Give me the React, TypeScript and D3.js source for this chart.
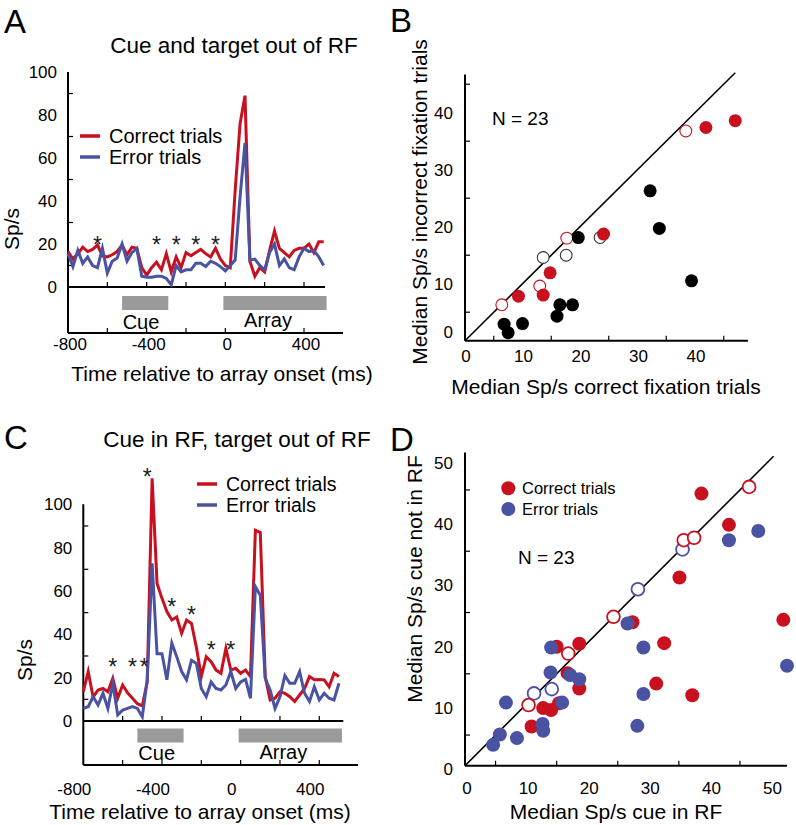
import React from 'react';
import * as d3 from 'd3';

const RED = '#c8101f';
const BLUE = '#4a52a2';
const BAR_GRAY = '#9a9a9a';
const FONT = "'Liberation Sans', Arial, Helvetica, sans-serif";

// ---------- time-course data (panels A, C) ----------
const binTimes = d3.range(-800, 501, 25);
const timeTickLabels = [-800, -400, 0, 400];
const timeMinorTicks = [-600, -400, -200, 0, 200, 400];
const rateTickLabels = [0, 20, 40, 60, 80, 100];
const rateMinorTicks = [10, 30, 50, 70, 90];
const cueEpoch = [-525, -290];
const arrayEpoch = [-10, 515];
const seriesNames = ['Correct trials', 'Error trials'];

const aCorrect = [16.5, 13, 15.5, 18.5, 16.5, 17.5, 19.5, 14.5, 14, 15, 16.5, 19.5, 15, 18.5, 18, 9, 5.5, 9, 11.5, 8,
  15.5, 7, 14, 9, 16, 14.5, 16, 17.5, 15.5, 14, 18, 13, 10, 9, 45, 76, 89, 12, 5, 9,
  7, 17, 26, 18, 16, 14, 17, 18, 18, 20, 16, 21, 21];
const aError = [15.5, 9.5, 17, 11, 14, 10, 9, 18, 6.5, 12, 13.5, 20, 12, 16, 18, 5, 4.5, 4.5, 5, 5,
  4, 1, 10, 7, 8, 8, 11, 11, 9.5, 12, 11, 9.5, 7.5, 10, 12.5, 42, 67, 12.5, 13, 10,
  8, 16, 20, 10, 13, 9, 8, 14, 18, 16.5, 17, 14, 10];
const aStarTimes = [-650, -350, -250, -150, -50];
const aStarRates = [22, 22, 22, 22, 22];

const cCorrect = [13.5, 22.8, 11, 14.3, 15, 13.5, 19.7, 10.5, 16.6, 13, 10.5, 8, 7, 18, 112, 63.5, 56.6, 50.5, 46.6, 48,
  40.5, 46.6, 45, 34, 20.5, 29.7, 27.4, 23.5, 22, 33.5, 23.5, 24.3, 22, 23.5, 20.5, 88, 87, 20.5, 9.7, 10.5,
  13.5, 12.8, 11.2, 9, 12, 15, 20.5, 19, 19.2, 19, 15.8, 22, 20.5];
const cError = [5.8, 6.6, 11.2, 7.4, 12.8, 5.8, 17.4, 2.8, 5, 5.8, 6.6, 5.8, 2, 19, 72.8, 31, 31, 19, 36, 29.7,
  22.8, 19, 28, 26.6, 15, 11.2, 18, 15, 14.3, 16.6, 22.8, 15, 18, 19.2, 10.5, 62, 58, 19.7, 14.3, 5.8,
  11.2, 21, 17.4, 17.4, 22.8, 12.8, 9, 15.8, 9.7, 12.8, 10.5, 9.7, 17.4];
const cStarTimes = [-650, -550, -490, -475, -350, -250, -150, -50];
const cStarRates = [27, 27, 27, 115, 55, 51, 35, 35];

// ---------- scatter data (panel B) ----------
const bRedFilledX = [9.3, 13.6, 14.8, 24.1, 41.9, 47.0];
const bRedFilledY = [7.8, 8.0, 11.9, 18.7, 37.4, 38.6];
const bRedOpenX = [6.4, 13.0, 17.7, 38.4];
const bRedOpenY = [6.3, 9.6, 18.0, 36.8];
const bBlackOpenX = [13.6, 17.6, 23.5];
const bBlackOpenY = [14.6, 15.0, 18.1];
const bBlackFilledX = [6.8, 7.5, 10.0, 16.0, 16.5, 18.7, 19.7, 32.2, 33.8, 39.4];
const bBlackFilledY = [2.9, 1.4, 3.0, 4.3, 6.3, 6.3, 18.1, 26.3, 19.7, 10.5];
const bTickLabels = [0, 10, 20, 30, 40];
const bMinorTicks = [5, 15, 25, 35, 45];

// ---------- scatter data (panel D) ----------
const dRedFilledX = [38.7, 43.2, 35.1, 52.1, 27.4, 32.6, 31.3, 37.2, 15.0, 18.7, 16.8, 18.7, 12.8, 14.1, 15.4, 10.9];
const dRedFilledY = [44.4, 39.3, 30.7, 23.8, 23.4, 20.0, 13.4, 11.5, 19.4, 19.9, 15.1, 12.6, 9.4, 9.1, 10.2, 6.4];
const dRedOpenX = [46.5, 35.8, 37.5, 24.3, 16.9, 10.4];
const dRedOpenY = [45.5, 36.8, 37.2, 24.3, 18.3, 9.9];
const dBlueOpenX = [35.6, 28.3, 11.3, 14.2];
const dBlueOpenY = [35.3, 28.8, 11.8, 12.5];
const dBlueFilledX = [48.0, 43.2, 52.7, 26.6, 29.2, 29.2, 28.2, 14.1, 14.0, 17.2, 18.7, 15.9, 6.7, 12.7, 12.8, 8.5, 5.7, 4.6];
const dBlueFilledY = [38.3, 36.8, 16.3, 23.2, 19.3, 11.7, 6.5, 19.3, 15.2, 14.8, 14.1, 10.3, 10.3, 6.8, 5.7, 4.5, 5.1, 3.4];
const dTickLabels = [0, 10, 20, 30, 40, 50];
const dMinorTicks = [5, 15, 25, 35, 45];

type TCProps = {
  correct: number[]; error: number[]; starTimes: number[]; starRates: number[];
  xLeft: number; xRight: number; y0: number; y100: number;
  zeroEnd: number; boxBottom: number; boxRight: number; barTop: number;
  tickLabelY: number; tickLabelDx: number;
  cueLabel: [number, number]; arrayLabel: [number, number];
  title: string; titlePos: [number, number];
  legendX: number; legendY: number; legendFont: number;
  xLabelPos: [number, number]; yLabelPos: [number, number];
  letter: string; letterPos: [number, number];
};

function TimeCourse(p: TCProps) {
  const x = d3.scaleLinear().domain([-800, 400]).range([p.xLeft, p.xRight]);
  const y = d3.scaleLinear().domain([0, 100]).range([p.y0, p.y100]);
  const line = d3.line<number>().x((_, i) => x(binTimes[i])).y((d) => y(d));
  const barH = 14;
  return (
    <g fontFamily={FONT}>
      <text x={p.letterPos[0]} y={p.letterPos[1]} fontSize={33}>{p.letter}</text>
      <text x={p.titlePos[0]} y={p.titlePos[1]} fontSize={22.5} textAnchor="middle">{p.title}</text>
      {/* axes */}
      <line x1={p.xLeft} x2={p.xLeft} y1={p.y100} y2={p.boxBottom} stroke="#000" strokeWidth={2} />
      <line x1={p.xLeft} x2={p.zeroEnd} y1={p.y0} y2={p.y0} stroke="#000" strokeWidth={2} />
      <line x1={p.xLeft} x2={p.boxRight} y1={p.boxBottom} y2={p.boxBottom} stroke="#000" strokeWidth={2} />
      {rateMinorTicks.map((v) => (
        <line key={'ry' + v} x1={p.xLeft} x2={p.xLeft + 5} y1={y(v)} y2={y(v)} stroke="#000" strokeWidth={1.2} />
      ))}
      {timeMinorTicks.map((t) => (
        <g key={'tx' + t}>
          <line x1={x(t)} x2={x(t)} y1={p.y0} y2={p.y0 - 5} stroke="#000" strokeWidth={1.2} />
          <line x1={x(t)} x2={x(t)} y1={p.boxBottom} y2={p.boxBottom - 5} stroke="#000" strokeWidth={1.2} />
        </g>
      ))}
      {rateTickLabels.map((v) => (
        <text key={'yl' + v} x={p.xLeft - 11} y={y(v)} dy="0.35em" fontSize={17} textAnchor="end">{v}</text>
      ))}
      {timeTickLabels.map((t) => (
        <text key={'xl' + t} x={x(t) + p.tickLabelDx} y={p.tickLabelY} dy="0.35em" fontSize={17} textAnchor="middle">{t}</text>
      ))}
      {/* epochs */}
      <rect x={x(cueEpoch[0])} y={p.barTop} width={x(cueEpoch[1]) - x(cueEpoch[0])} height={barH} fill={BAR_GRAY} />
      <rect x={x(arrayEpoch[0])} y={p.barTop} width={x(arrayEpoch[1]) - x(arrayEpoch[0])} height={barH} fill={BAR_GRAY} />
      <text x={p.cueLabel[0]} y={p.cueLabel[1]} dy="0.35em" fontSize={20} textAnchor="middle">Cue</text>
      <text x={p.arrayLabel[0]} y={p.arrayLabel[1]} dy="0.35em" fontSize={20} textAnchor="middle">Array</text>
      {/* lines */}
      <path d={line(p.correct) || ''} fill="none" stroke={RED} strokeWidth={3} strokeLinejoin="miter" strokeMiterlimit={6} />
      <path d={line(p.error) || ''} fill="none" stroke={BLUE} strokeWidth={3} strokeLinejoin="miter" strokeMiterlimit={6} />
      {p.starTimes.map((t, i) => (
        <text key={'s' + i} x={x(t)} y={y(p.starRates[i]) + 13} fontSize={23} textAnchor="middle" fill="#222">*</text>
      ))}
      {/* legend */}
      {seriesNames.map((n, i) => (
        <g key={n}>
          <line x1={p.legendX} x2={p.legendX + 20} y1={p.legendY + i * 21} y2={p.legendY + i * 21}
            stroke={i === 0 ? RED : BLUE} strokeWidth={3.5} />
          <text x={p.legendX + 29} y={p.legendY + i * 21} dy="0.35em" fontSize={p.legendFont}>{n}</text>
        </g>
      ))}
      <text x={p.xLabelPos[0]} y={p.xLabelPos[1]} dy="0.35em" fontSize={21} textAnchor="middle">
        Time relative to array onset (ms)
      </text>
      <text transform={`translate(${p.yLabelPos[0]},${p.yLabelPos[1]}) rotate(-90)`} dy="0.35em" fontSize={21} textAnchor="middle">Sp/s</text>
    </g>
  );
}

type Pts = { xs: number[]; ys: number[]; color: string; open: boolean };

function Scatter(props: {
  x: d3.ScaleLinear<number, number>; y: d3.ScaleLinear<number, number>;
  xMax: number; yMax: number; diagMax: number; groups: Pts[]; r: number; openWidth: number;
  tickLabels: number[]; minor: number[]; xLabelY: number; yLabelRight: number; yLabelDy: number;
  zeroYLabelY?: number; xLabelDx: number;
  xTitle: string; xTitlePos: [number, number]; yTitle: string; yTitlePos: [number, number];
  nPos: [number, number]; letter: string; letterPos: [number, number];
}) {
  const { x, y } = props;
  return (
    <g fontFamily={FONT}>
      <text x={props.letterPos[0]} y={props.letterPos[1]} fontSize={33}>{props.letter}</text>
      <line x1={x(0)} x2={x(props.xMax)} y1={y(0)} y2={y(0)} stroke="#000" strokeWidth={2} />
      <line x1={x(0)} x2={x(0)} y1={y(0)} y2={y(props.yMax)} stroke="#000" strokeWidth={2} />
      {props.minor.map((v) => (
        <g key={'m' + v}>
          <line x1={x(0)} x2={x(0) + 5} y1={y(v)} y2={y(v)} stroke="#000" strokeWidth={1.2} />
          <line x1={x(v)} x2={x(v)} y1={y(0)} y2={y(0) - 5} stroke="#000" strokeWidth={1.2} />
        </g>
      ))}
      {props.tickLabels.map((v) => (
        <g key={'t' + v}>
          <text x={x(v) + props.xLabelDx} y={props.xLabelY} dy="0.35em" fontSize={17} textAnchor="middle">{v}</text>
          <text x={props.yLabelRight} y={v === 0 && props.zeroYLabelY !== undefined ? props.zeroYLabelY : y(v) + props.yLabelDy}
            dy="0.35em" fontSize={17} textAnchor="end">{v}</text>
        </g>
      ))}
      <line x1={x(0)} y1={y(0)} x2={x(props.diagMax)} y2={y(props.diagMax)} stroke="#000" strokeWidth={1.6} />
      {props.groups.map((g, gi) =>
        g.xs.map((xv, i) => (
          <circle key={gi + '-' + i} cx={x(xv)} cy={y(g.ys[i])} r={g.open ? props.r - 0.6 : props.r}
            fill={g.open ? '#fff' : g.color} stroke={g.open ? g.color : 'none'} strokeWidth={g.open ? props.openWidth : 0} />
        ))
      )}
      <text x={props.nPos[0]} y={props.nPos[1]} dy="0.35em" fontSize={19}>N = 23</text>
      <text x={props.xTitlePos[0]} y={props.xTitlePos[1]} dy="0.35em" fontSize={21} textAnchor="middle">{props.xTitle}</text>
      <text transform={`translate(${props.yTitlePos[0]},${props.yTitlePos[1]}) rotate(-90)`} dy="0.35em" fontSize={21} textAnchor="middle">{props.yTitle}</text>
    </g>
  );
}

export default function App() {
  const bx = d3.scaleLinear().domain([0, 40]).range([465, 695]);
  const by = d3.scaleLinear().domain([0, 40]).range([340.7, 112.7]);
  const dx = d3.scaleLinear().domain([0, 50]).range([465, 770.5]);
  const dy = d3.scaleLinear().domain([0, 50]).range([765.7, 459.3]);

  return (
    <div style={{ position: 'absolute', left: 0, top: 0 }}>
      <svg width={796} height={825} viewBox="0 0 796 825" style={{ display: 'block', background: '#fff' }}>
        <rect width={796} height={825} fill="#fff" />
        <TimeCourse
          correct={aCorrect} error={aError} starTimes={aStarTimes} starRates={aStarRates}
          xLeft={68} xRight={304} y0={287} y100={72}
          zeroEnd={325} boxBottom={333} boxRight={343} barTop={296}
          tickLabelY={344} tickLabelDx={2}
          cueLabel={[141, 322]} arrayLabel={[268, 320]}
          title="Cue and target out of RF" titlePos={[234, 53]}
          legendX={80} legendY={136} legendFont={20}
          xLabelPos={[222, 374]} yLabelPos={[12, 229]}
          letter="A" letterPos={[4, 33]}
        />
        <TimeCourse
          correct={cCorrect} error={cError} starTimes={cStarTimes} starRates={cStarRates}
          xLeft={83.3} xRight={319.3} y0={721} y100={504.3}
          zeroEnd={343.3} boxBottom={765} boxRight={358} barTop={728.5}
          tickLabelY={789} tickLabelDx={-9}
          cueLabel={[156.7, 753]} arrayLabel={[283.3, 752]}
          title="Cue in RF, target out of RF" titlePos={[237, 447]}
          legendX={197} legendY={484} legendFont={19.5}
          xLabelPos={[200, 812]} yLabelPos={[25, 660]}
          letter="C" letterPos={[4, 449]}
        />
        <Scatter
          x={bx} y={by} xMax={49.2} yMax={46.7} diagMax={47}
          groups={[
            { xs: bBlackOpenX, ys: bBlackOpenY, color: '#333', open: true },
            { xs: bRedOpenX, ys: bRedOpenY, color: RED, open: true },
            { xs: bRedFilledX, ys: bRedFilledY, color: RED, open: false },
            { xs: bBlackFilledX, ys: bBlackFilledY, color: '#000', open: false },
          ]}
          r={6.5} openWidth={1.1}
          tickLabels={bTickLabels} minor={bMinorTicks} xLabelY={356} yLabelRight={453} yLabelDy={0}
          zeroYLabelY={332.5} xLabelDx={1}
          xTitle="Median Sp/s correct fixation trials" xTitlePos={[606, 387]}
          yTitle="Median Sp/s incorrect fixation trials" yTitlePos={[420, 202]}
          nPos={[492, 118]} letter="B" letterPos={[390, 32]}
        />
        <Scatter
          x={dx} y={dy} xMax={52.7} yMax={51.1} diagMax={50.5}
          groups={[
            { xs: dRedFilledX, ys: dRedFilledY, color: RED, open: false },
            { xs: dBlueFilledX, ys: dBlueFilledY, color: BLUE, open: false },
            { xs: dBlueOpenX, ys: dBlueOpenY, color: BLUE, open: true },
            { xs: dRedOpenX, ys: dRedOpenY, color: RED, open: true },
          ]}
          r={7} openWidth={1.8}
          tickLabels={dTickLabels} minor={dMinorTicks} xLabelY={788} yLabelRight={453} yLabelDy={3.5}
          xLabelDx={2}
          xTitle="Median Sp/s cue in RF" xTitlePos={[616, 812]}
          yTitle="Median Sp/s cue not in RF" yTitlePos={[415, 579]}
          nPos={[518, 557]} letter="D" letterPos={[390, 451]}
        />
        {/* legend D */}
        <g fontFamily={FONT}>
          {seriesNames.map((n, i) => (
            <g key={n}>
              <circle cx={508.3} cy={488.3 + i * 20.7} r={7} fill={i === 0 ? RED : BLUE} />
              <text x={522} y={488.3 + i * 20.7} dy="0.35em" fontSize={16.5}>{n}</text>
            </g>
          ))}
        </g>
      </svg>
    </div>
  );
}
